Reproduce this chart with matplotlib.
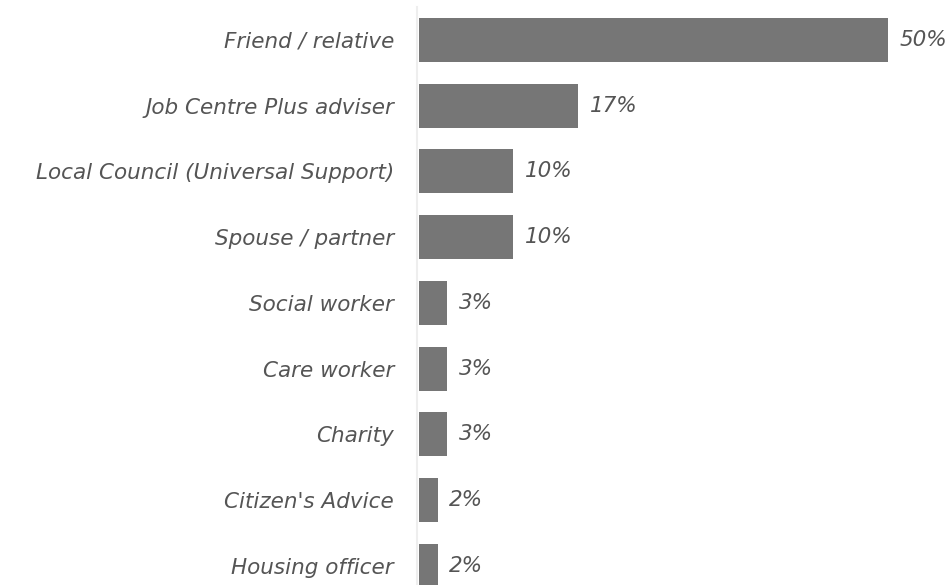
import matplotlib
matplotlib.use('Agg')
import matplotlib.pyplot as plt

#> Data
categories = ['Friend / relative', 'Job Centre Plus adviser', 'Local Council (Universal Support)',
              'Spouse / partner', 'Social worker', 'Care worker', 'Charity',
              "Citizen's Advice", 'Housing officer']
values = [50, 17, 10, 10, 3, 3, 3, 2, 2]

bar_color = '#767676'
text_color = '#555555'
font = 'DejaVu Sans'
fsize = 15.5

fig = plt.figure(figsize=(9.52, 5.85), dpi=100)
ax = fig.add_axes([417/952, 0, 1 - 417/952, (585-7)/585])

pos = list(range(len(categories)))
ax.barh(pos, values, height=0.67, color=bar_color, left=0)

for p, v in zip(pos, values):
    ax.text(v + 1.25, p, f'{v}%', va='center', ha='left', fontsize=fsize,
            style='italic', color=text_color, family=font)

ax.set_xlim(-0.2, 56.8)
ax.set_ylim(8.29, -0.50)
ax.set_yticks(pos)
ax.set_yticklabels(categories, fontsize=fsize, style='italic', color=text_color,
                   family=font)
ax.tick_params(axis='y', length=0, pad=16.5)
ax.set_xticks([])
for s in ['top', 'right', 'bottom']:
    ax.spines[s].set_visible(False)
ax.spines['left'].set_color('#eeeeee')
ax.spines['left'].set_linewidth(1.5)

fig.savefig('out.png', dpi=100)
